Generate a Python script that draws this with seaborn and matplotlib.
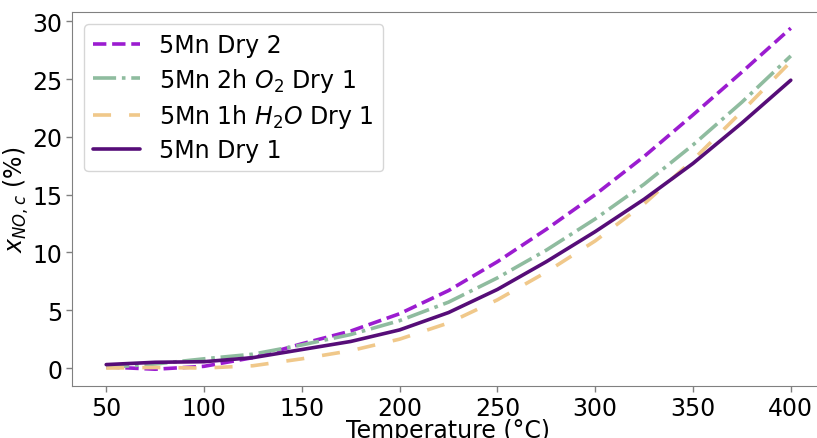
import matplotlib
matplotlib.use("Agg")
import matplotlib.pyplot as plt
import seaborn as sns
import pandas as pd

temperature = [50, 75, 100, 125, 150, 175, 200, 225, 250, 275, 300, 325, 350, 375, 400]
dry2 = [0.1, -0.1, 0.15, 0.9, 2.1, 3.2, 4.7, 6.7, 9.2, 12.0, 15.0, 18.3, 21.9, 25.6, 29.4]
o2_dry1 = [0.05, 0.35, 0.8, 1.2, 2.0, 2.9, 4.1, 5.7, 7.8, 10.2, 12.9, 15.9, 19.3, 23.0, 27.0]
h2o_dry1 = [0.0, 0.05, 0.0, 0.2, 0.8, 1.5, 2.5, 3.9, 5.9, 8.3, 11.0, 14.2, 18.0, 22.2, 26.5]
dry1 = [0.3, 0.5, 0.55, 0.9, 1.6, 2.3, 3.3, 4.8, 6.8, 9.2, 11.8, 14.6, 17.7, 21.2, 24.9]

labels = ["5Mn Dry 2", "5Mn 2h $O_2$ Dry 1", "5Mn 1h $H_2O$ Dry 1", "5Mn Dry 1"]
series = [dry2, o2_dry1, h2o_dry1, dry1]
colors = ["#9b1cd0", "#8fbc9f", "#f0c88a", "#560d78"]
styles = ["--", "-.", (0, (5, 5)), "-"]

sns.set_style("white")
plt.rcParams["font.family"] = ["DejaVu Sans"]
plt.rcParams["text.color"] = "black"
plt.rcParams["axes.labelcolor"] = "black"
plt.rcParams["xtick.color"] = "black"
plt.rcParams["ytick.color"] = "black"

fig = plt.figure(figsize=(8.17, 4.39), dpi=100)
ax = fig.add_axes([0.0881, 0.1185, 0.9217, 0.8519])

for lab, vals, c, ls in zip(labels, series, colors, styles):
    df = pd.DataFrame({"T": temperature, "x": vals})
    sns.lineplot(data=df, x="T", y="x", ax=ax, color=c, linestyle=ls, lw=2.6, label=lab)

ax.set_xlim(32.5, 417.5)
ax.set_ylim(-1.55, 30.8)
ax.set_xticks([50, 100, 150, 200, 250, 300, 350, 400])
ax.set_yticks([0, 5, 10, 15, 20, 25, 30])
ax.tick_params(axis="both", labelsize=17, length=4, width=1, pad=3, left=True, bottom=True,
               color="#808080", labelcolor="black")
for s in ax.spines.values():
    s.set_color("#808080")
ax.spines["right"].set_visible(False)
ax.set_xlabel("Temperature (°C)", fontsize=17, labelpad=-1, color="black")
ax.set_ylabel("$x_{NO,c}$ (%)", fontsize=17, labelpad=1, color="black")
leg = ax.legend(loc="upper left", fontsize=17, frameon=True, labelspacing=0.35)
for t in leg.get_texts():
    t.set_color("black")

fig.savefig("out.png", dpi=100)
